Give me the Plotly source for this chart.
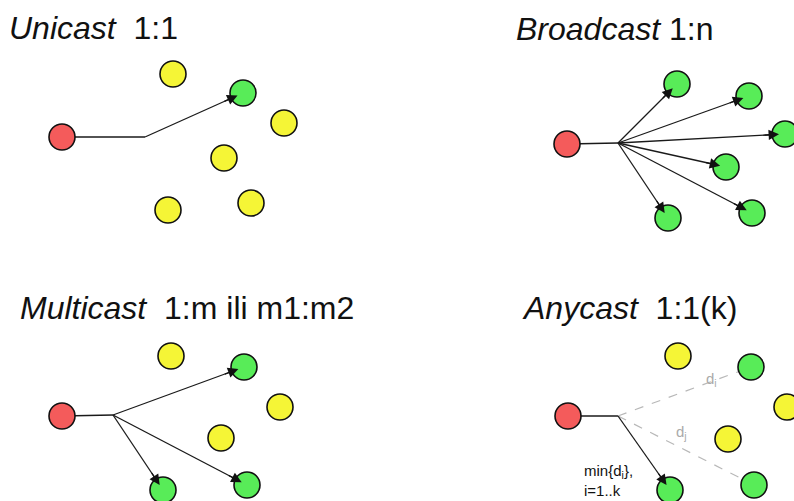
import plotly.graph_objects as go
import math

W, H = 794, 501

# Node positions (pixel-space coordinates)
red_x = [62, 567, 62, 568]
red_y = [137, 144, 416, 416]

yellow_x = [173, 284, 224, 168, 251, 171, 280, 221, 678, 787, 728]
yellow_y = [74, 123, 158, 210, 203, 356, 407, 438, 356, 407, 439]

green_x = [243, 677, 749, 785, 726, 752, 668, 244, 163, 247, 751, 754, 670]
green_y = [93, 84, 96, 134, 167, 213, 218, 367, 490, 485, 367, 485, 490]

# hub (branch) points
hub_x = [145, 618, 113, 618]
hub_y = [137, 143, 415, 416]

# arrows: (hub index, green index)
arrow_hub = [0, 1, 1, 1, 1, 1, 1, 2, 2, 2, 3]
arrow_green = [0, 1, 2, 3, 4, 5, 6, 7, 8, 9, 12]

# dashed distance lines (anycast): (hub index, green index)
dash_hub = [3, 3]
dash_green = [10, 11]

titles = ["<i>Unicast</i>\u00a0\u00a01:1", "<i>Broadcast</i> 1:n",
          "<i>Multicast</i>\u00a0\u00a01:m ili m1:m2", "<i>Anycast</i>\u00a0\u00a01:1(k)"]
title_x = [7, 514, 18, 520]
title_y = [28, 29, 308, 308]

FONT = "Liberation Sans, Arial, sans-serif"
RED, YELLOW, GREEN = "#f45b5b", "#f5f536", "#58ec58"

fig = go.Figure()

# red -> hub connecting lines
for i in range(len(red_x)):
    fig.add_trace(go.Scatter(x=[red_x[i], hub_x[i]], y=[red_y[i], hub_y[i]], mode="lines",
                             line=dict(color="#1a1a1a", width=1.3), hoverinfo="skip"))

# dashed lines
for h, g in zip(dash_hub, dash_green):
    fig.add_trace(go.Scatter(x=[hub_x[h], green_x[g]], y=[hub_y[h], green_y[g]], mode="lines",
                             line=dict(color="#b8b8b8", width=1.2, dash="dash"), hoverinfo="skip"))

# arrow shafts
for h, g in zip(arrow_hub, arrow_green):
    fig.add_trace(go.Scatter(x=[hub_x[h], green_x[g]], y=[hub_y[h], green_y[g]], mode="lines",
                             line=dict(color="#1a1a1a", width=1.3), hoverinfo="skip"))

marker_line = dict(color="#111111", width=1.6)
fig.add_trace(go.Scatter(x=red_x, y=red_y, mode="markers",
                         marker=dict(size=26, color=RED, line=marker_line)))
fig.add_trace(go.Scatter(x=yellow_x, y=yellow_y, mode="markers",
                         marker=dict(size=26, color=YELLOW, line=marker_line)))
fig.add_trace(go.Scatter(x=green_x, y=green_y, mode="markers",
                         marker=dict(size=26, color=GREEN, line=marker_line)))

# arrowheads on top of green nodes
for h, g in zip(arrow_hub, arrow_green):
    x0, y0 = hub_x[h], hub_y[h]
    x1, y1 = green_x[g], green_y[g]
    L = math.hypot(x1 - x0, y1 - y0)
    ex, ey = x1 - (x1 - x0) / L * 6, y1 - (y1 - y0) / L * 6
    sx, sy = x1 - (x1 - x0) / L * 22, y1 - (y1 - y0) / L * 22
    fig.add_annotation(x=ex, y=ey, ax=sx, ay=sy, xref="x", yref="y", axref="x", ayref="y",
                       text="", showarrow=True, arrowhead=2, arrowsize=1.6, arrowwidth=1.3,
                       arrowcolor="#111111", standoff=0, startstandoff=0)

for t, x, y in zip(titles, title_x, title_y):
    fig.add_annotation(x=x, y=y, xref="x", yref="y", text=t, showarrow=False,
                       xanchor="left", yanchor="middle",
                       font=dict(family=FONT, size=32, color="#111111"))

fig.add_annotation(x=704, y=379, xref="x", yref="y", text="d<sub>i</sub>", showarrow=False,
                   xanchor="left", yanchor="middle", font=dict(family=FONT, size=15, color="#aaaaaa"))
fig.add_annotation(x=674, y=432, xref="x", yref="y", text="d<sub>j</sub>", showarrow=False,
                   xanchor="left", yanchor="middle", font=dict(family=FONT, size=15, color="#aaaaaa"))
fig.add_annotation(x=582, y=471, xref="x", yref="y", text="min{d<sub>i</sub>},",
                   showarrow=False, xanchor="left", yanchor="middle",
                   font=dict(family=FONT, size=15, color="#111111"))
fig.add_annotation(x=582, y=490, xref="x", yref="y", text="i=1..k",
                   showarrow=False, xanchor="left", yanchor="middle",
                   font=dict(family=FONT, size=15, color="#111111"))

fig.update_layout(width=W, height=H, margin=dict(l=0, r=0, t=0, b=0),
                  paper_bgcolor="white", plot_bgcolor="white", showlegend=False,
                  xaxis=dict(range=[0, W], visible=False, fixedrange=True),
                  yaxis=dict(range=[H, 0], visible=False, fixedrange=True))

fig.write_html("out.html", post_script="document.body.style.margin='0px';",
               config={"displayModeBar": False})
